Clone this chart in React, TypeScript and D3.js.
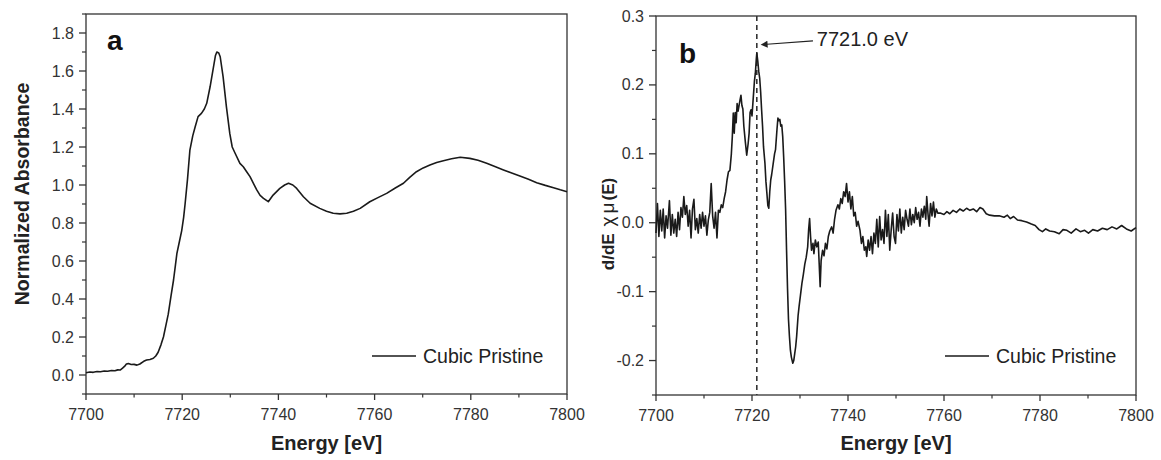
import React from "react";
import * as d3 from "d3";

// ---------- data ----------
const xMajorTicks = [7700, 7720, 7740, 7760, 7780, 7800];
const xMinorTicks = [7710, 7730, 7750, 7770, 7790];
const yMajorTicksA = [0.0, 0.2, 0.4, 0.6, 0.8, 1.0, 1.2, 1.4, 1.6, 1.8];
const yMinorTicksA = [-0.1, 0.1, 0.3, 0.5, 0.7, 0.9, 1.1, 1.3, 1.5, 1.7, 1.9];
const yMajorTicksB = [-0.2, -0.1, 0.0, 0.1, 0.2, 0.3];
const yMinorTicksB = [-0.25, -0.15, -0.05, 0.05, 0.15, 0.25];

// Panel a: normalized absorbance [energy eV, value]
const xanes: [number, number][] = [
  [7700.0, 0.012], [7700.8, 0.016], [7701.5, 0.014], [7702.3, 0.018], [7703.0, 0.017], [7703.8, 0.021],
  [7704.5, 0.02], [7705.3, 0.024], [7706.0, 0.022], [7706.6, 0.027],
  [7707.1, 0.026], [7707.6, 0.036], [7708.0, 0.045], [7708.4, 0.058], [7708.8, 0.06], [7709.4, 0.055], [7710.0, 0.056], [7710.6, 0.052], [7711.2, 0.058],
  [7712.0, 0.072], [7712.6, 0.079], [7713.3, 0.082], [7714.0, 0.088], [7714.5, 0.1],
  [7715.0, 0.12], [7715.6, 0.16], [7716.1, 0.2], [7716.6, 0.26], [7717.1, 0.32],
  [7717.7, 0.42], [7718.2, 0.5], [7718.6, 0.58], [7718.9, 0.64], [7719.4, 0.7], [7719.9, 0.76],
  [7720.3, 0.83], [7720.6, 0.9], [7721.1, 1.03], [7721.6, 1.184], [7722.2, 1.26],
  [7722.7, 1.307], [7723.3, 1.36], [7724.0, 1.377], [7724.6, 1.4], [7725.1, 1.43],
  [7725.8, 1.517], [7726.5, 1.62], [7726.9, 1.68], [7727.2, 1.7], [7727.6, 1.695],
  [7727.9, 1.675], [7728.5, 1.57], [7729.2, 1.41], [7729.9, 1.27], [7730.4, 1.2],
  [7731.0, 1.167], [7732.0, 1.114], [7732.7, 1.096], [7733.4, 1.07], [7734.1, 1.044],
  [7735.5, 0.974], [7736.2, 0.945], [7736.9, 0.93], [7737.9, 0.912], [7738.9, 0.947],
  [7740.3, 0.982], [7741.3, 1.0], [7742.1, 1.009], [7743.0, 1.0], [7743.8, 0.982],
  [7745.2, 0.938], [7746.6, 0.904], [7748.6, 0.877], [7750.0, 0.862], [7751.4, 0.851],
  [7752.8, 0.848], [7754.2, 0.851], [7755.6, 0.862], [7757.0, 0.877], [7759.0, 0.912],
  [7760.8, 0.935], [7762.5, 0.956], [7764.3, 0.984], [7766.0, 1.009], [7767.3, 1.04],
  [7768.7, 1.07], [7770.1, 1.09], [7771.5, 1.105], [7772.9, 1.118], [7774.3, 1.128],
  [7776.0, 1.138], [7777.8, 1.146], [7779.8, 1.14], [7781.5, 1.13], [7783.3, 1.114],
  [7785.0, 1.097], [7786.8, 1.079], [7788.5, 1.063], [7790.2, 1.047], [7792.0, 1.03],
  [7793.7, 1.012], [7795.5, 0.998], [7797.2, 0.986], [7798.6, 0.975], [7800.0, 0.965],
];

// Panel b: derivative d/dE chi-mu(E) [energy eV, value]
const deriv: [number, number][] = [
  [7700.0, -0.015], [7700.3, 0.028], [7700.6, -0.02], [7700.9, 0.018], [7701.2, -0.012],
  [7701.5, 0.02], [7701.8, -0.022], [7702.1, 0.01], [7702.4, -0.008], [7702.8, 0.032],
  [7703.1, -0.018], [7703.4, 0.012], [7703.7, -0.015], [7704.0, 0.005], [7704.3, -0.02],
  [7704.6, 0.015], [7704.9, -0.01], [7705.2, 0.022], [7705.5, 0.008], [7705.8, 0.038],
  [7706.1, 0.012], [7706.4, 0.025], [7706.7, -0.005], [7707.0, 0.018], [7707.3, -0.022],
  [7707.6, 0.02], [7707.9, 0.034], [7708.2, -0.01], [7708.5, 0.006], [7708.8, -0.015],
  [7709.1, 0.012], [7709.4, -0.008], [7709.7, 0.015], [7710.0, -0.005], [7710.3, 0.01],
  [7710.6, -0.018], [7710.9, 0.004], [7711.2, 0.015], [7711.5, 0.057], [7711.8, 0.01],
  [7712.1, -0.008], [7712.4, 0.015], [7712.7, -0.022], [7713.0, 0.018], [7713.3, 0.015],
  [7713.6, 0.026], [7713.9, 0.022], [7714.2, 0.035], [7714.5, 0.045], [7714.8, 0.062],
  [7715.1, 0.074], [7715.4, 0.076], [7715.7, 0.1], [7715.9, 0.125], [7716.1, 0.159],
  [7716.3, 0.13], [7716.5, 0.16], [7716.7, 0.145], [7716.9, 0.173], [7717.1, 0.162],
  [7717.3, 0.17], [7717.5, 0.178], [7717.7, 0.185], [7717.9, 0.17], [7718.1, 0.165],
  [7718.3, 0.14], [7718.6, 0.118], [7718.9, 0.098], [7719.2, 0.115], [7719.4, 0.13],
  [7719.6, 0.16], [7719.8, 0.164], [7720.0, 0.155], [7720.2, 0.175], [7720.5, 0.205],
  [7720.7, 0.217], [7720.9, 0.238], [7721.0, 0.246], [7721.2, 0.235], [7721.4, 0.22],
  [7721.6, 0.21], [7721.8, 0.19], [7722.0, 0.164], [7722.2, 0.14], [7722.4, 0.11],
  [7722.7, 0.086], [7722.9, 0.06], [7723.1, 0.043], [7723.3, 0.025], [7723.5, 0.021],
  [7723.7, 0.045], [7723.9, 0.062], [7724.1, 0.07], [7724.4, 0.085], [7724.7, 0.1],
  [7724.9, 0.106], [7725.2, 0.135], [7725.4, 0.152], [7725.6, 0.148], [7725.8, 0.15],
  [7726.0, 0.14], [7726.2, 0.142], [7726.4, 0.125], [7726.6, 0.095], [7726.8, 0.06],
  [7727.0, 0.02], [7727.2, -0.04], [7727.4, -0.095], [7727.6, -0.14], [7727.8, -0.165],
  [7728.0, -0.185], [7728.2, -0.195], [7728.5, -0.204], [7728.7, -0.2], [7728.9, -0.19],
  [7729.1, -0.18], [7729.3, -0.165], [7729.6, -0.135], [7729.8, -0.122], [7730.1, -0.105],
  [7730.4, -0.088], [7730.7, -0.075], [7731.0, -0.06], [7731.3, -0.05], [7731.6, -0.035],
  [7731.8, -0.01], [7732.0, 0.006], [7732.2, -0.02], [7732.4, -0.04], [7732.7, -0.03],
  [7732.9, -0.045], [7733.2, -0.025], [7733.5, -0.035], [7733.8, -0.028], [7734.0, -0.06],
  [7734.2, -0.093], [7734.4, -0.055], [7734.7, -0.04], [7735.0, -0.048], [7735.3, -0.03],
  [7735.6, -0.038], [7735.9, -0.02], [7736.2, -0.012], [7736.6, -0.006], [7736.9, -0.015],
  [7737.2, 0.005], [7737.5, 0.018], [7737.9, 0.026], [7738.2, 0.02], [7738.5, 0.035],
  [7738.8, 0.028], [7739.1, 0.045], [7739.4, 0.038], [7739.7, 0.057], [7740.0, 0.03],
  [7740.3, 0.045], [7740.6, 0.02], [7740.9, 0.038], [7741.2, 0.01], [7741.5, 0.015],
  [7741.8, -0.005], [7742.1, 0.002], [7742.5, -0.011], [7742.8, -0.03], [7743.1, -0.02],
  [7743.4, -0.04], [7743.7, -0.035], [7743.9, -0.049], [7744.2, -0.025], [7744.5, -0.04],
  [7744.8, -0.02], [7745.1, -0.045], [7745.4, -0.015], [7745.7, -0.03], [7746.0, 0.005],
  [7746.3, -0.035], [7746.6, 0.009], [7746.9, -0.025], [7747.2, -0.01], [7747.5, -0.03],
  [7747.8, 0.018], [7748.1, -0.02], [7748.4, 0.012], [7748.7, -0.04], [7749.0, -0.01],
  [7749.3, 0.014], [7749.6, -0.02], [7749.9, -0.03], [7750.2, 0.012], [7750.5, -0.012],
  [7750.8, 0.02], [7751.1, -0.015], [7751.4, 0.008], [7751.7, -0.01], [7752.0, 0.018],
  [7752.3, 0.005], [7752.6, -0.005], [7752.9, 0.02], [7753.2, -0.003], [7753.5, 0.012],
  [7753.8, 0.0], [7754.1, 0.022], [7754.4, 0.005], [7754.7, 0.015], [7755.0, -0.005],
  [7755.3, 0.02], [7755.6, 0.008], [7755.9, 0.024], [7756.2, 0.005], [7756.4, 0.038],
  [7756.7, 0.01], [7756.9, -0.005], [7757.2, 0.028], [7757.5, 0.01], [7757.8, 0.03],
  [7758.1, 0.008], [7758.4, 0.02], [7758.7, 0.014], [7759.2, 0.014], [7760.0, 0.012],
  [7760.6, 0.016], [7761.2, 0.013], [7761.9, 0.018], [7762.6, 0.015], [7763.3, 0.02],
  [7764.0, 0.017], [7764.7, 0.021], [7765.4, 0.018], [7766.1, 0.02], [7766.8, 0.016],
  [7767.5, 0.022], [7768.1, 0.02], [7768.8, 0.013], [7769.5, 0.011], [7770.5, 0.01],
  [7771.5, 0.01], [7772.5, 0.008], [7773.2, 0.011], [7773.8, 0.006], [7774.5, 0.009],
  [7775.3, 0.004], [7776.2, 0.003], [7777.2, 0.001], [7778.2, -0.002], [7779.0, -0.004],
  [7779.8, -0.01], [7780.5, -0.013], [7781.2, -0.009], [7782.0, -0.012], [7783.0, -0.013],
  [7784.0, -0.016], [7784.8, -0.01], [7785.6, -0.011], [7786.5, -0.015], [7787.5, -0.009],
  [7788.4, -0.013], [7789.3, -0.011], [7790.1, -0.015], [7791.0, -0.01], [7792.0, -0.012],
  [7793.0, -0.008], [7794.0, -0.01], [7795.0, -0.006], [7796.0, -0.009], [7797.0, -0.004],
  [7798.0, -0.009], [7799.0, -0.012], [7800.0, -0.007],
];

const peakEnergy = 7721.0;
const peakLabel = "7721.0 eV";
const legendLabel = "Cubic Pristine";

// ---------- layout ----------
const W = 1161;
const H = 460;
const FONT = "'Liberation Sans', Arial, Helvetica, sans-serif";
const AXIS = "#333";
const LINE = "#1a1a1a";

type PanelProps = {
  x0: number; x1: number; y0: number; y1: number;
  yDomain: [number, number];
  yMajor: number[]; yMinor: number[]; yFmt: (v: number) => string;
  data: [number, number][];
  letter: string; letterX: number; letterY: number;
  legendY: number; legendX: number;
  children?: (x: d3.ScaleLinear<number, number>, y: d3.ScaleLinear<number, number>) => React.ReactNode;
};

function Panel(p: PanelProps) {
  const x = d3.scaleLinear().domain([7700, 7800]).range([p.x0, p.x1]);
  const y = d3.scaleLinear().domain(p.yDomain).range([p.y1, p.y0]);
  const line = d3.line<[number, number]>().x((d) => x(d[0])).y((d) => y(d[1]));
  return (
    <g>
      <rect x={p.x0} y={p.y0} width={p.x1 - p.x0} height={p.y1 - p.y0} fill="none" stroke={AXIS} strokeWidth={1.3} />
      {xMajorTicks.map((t) => (
        <g key={"xM" + t}>
          <line x1={x(t)} x2={x(t)} y1={p.y1} y2={p.y1 + 6} stroke={AXIS} strokeWidth={1.3} />
          <text x={x(t)} y={p.y1 + 26} textAnchor="middle" fontFamily={FONT} fontSize={16} fill="#333">{t}</text>
        </g>
      ))}
      {xMinorTicks.map((t) => (
        <line key={"xm" + t} x1={x(t)} x2={x(t)} y1={p.y1} y2={p.y1 + 3.5} stroke={AXIS} strokeWidth={1.2} />
      ))}
      {p.yMajor.map((t) => (
        <g key={"yM" + t}>
          <line x1={p.x0 - 7} x2={p.x0} y1={y(t)} y2={y(t)} stroke={AXIS} strokeWidth={1.3} />
          <text x={p.x0 - 12} y={y(t) + 5.5} textAnchor="end" fontFamily={FONT} fontSize={16} fill="#333">{p.yFmt(t)}</text>
        </g>
      ))}
      {p.yMinor.map((t) => (
        <line key={"ym" + t} x1={p.x0 - 4} x2={p.x0} y1={y(t)} y2={y(t)} stroke={AXIS} strokeWidth={1.2} />
      ))}
      <text x={(p.x0 + p.x1) / 2} y={450} textAnchor="middle" fontFamily={FONT} fontWeight="bold" fontSize={20} fill="#222">Energy [eV]</text>
      <text x={p.letterX} y={p.letterY} fontFamily={FONT} fontWeight="bold" fontSize={28} fill="#111">{p.letter}</text>
      {p.children && p.children(x, y)}
      <path d={line(p.data) || ""} fill="none" stroke={LINE} strokeWidth={1.6} strokeLinejoin="round" />
      <line x1={p.legendX} x2={p.legendX + 44} y1={p.legendY} y2={p.legendY} stroke={LINE} strokeWidth={1.5} />
      <text x={p.legendX + 51} y={p.legendY + 7} fontFamily={FONT} fontSize={19.5} fill="#222">{legendLabel}</text>
    </g>
  );
}

export default function App() {
  return (
    <svg width={W} height={H} viewBox={`0 0 ${W} ${H}`} style={{ position: "absolute", left: 0, top: 0, background: "#fff" }}>
      <defs>
        <marker id="arrowhead" viewBox="0 0 10 10" refX="1" refY="5" markerWidth="12" markerHeight="7" orient="auto-start-reverse" markerUnits="userSpaceOnUse">
          <path d="M0,0 L10,5 L0,10 z" fill="#222" />
        </marker>
      </defs>
      <rect x={0} y={0} width={W} height={H} fill="#fff" />
      <Panel
        x0={86} x1={567} y0={14} y1={394}
        yDomain={[-0.1, 1.9]}
        yMajor={yMajorTicksA} yMinor={yMinorTicksA} yFmt={(v) => d3.format(".1f")(v)}
        data={xanes}
        letter="a" letterX={107} letterY={50}
        legendX={372} legendY={356}
      />
      <text transform="translate(29,194) rotate(-90)" textAnchor="middle" fontFamily={FONT} fontWeight="bold" fontSize={19.5} fill="#222">Normalized Absorbance</text>

      <Panel
        x0={656} x1={1136} y0={16} y1={395}
        yDomain={[-0.25, 0.3]}
        yMajor={yMajorTicksB} yMinor={yMinorTicksB} yFmt={(v) => d3.format(".1f")(v).replace("−", "-")}
        data={deriv}
        letter="b" letterX={679} letterY={63}
        legendX={945} legendY={356}
      >
        {(x, y) => (
          <g>
            <line x1={x(peakEnergy)} x2={x(peakEnergy)} y1={y(0.3)} y2={y(-0.25)} stroke="#333" strokeWidth={1.6} strokeDasharray="5,4" />
            <line x1={x(7732.7)} y1={y(0.264)} x2={x(7723.1)} y2={y(0.259)} stroke="#222" strokeWidth={1.2} markerEnd="url(#arrowhead)" />
            <text x={x(7733.5)} y={y(0.256)} fontFamily={FONT} fontSize={20} fill="#222">{peakLabel}</text>
          </g>
        )}
      </Panel>
      <text transform="translate(614,224) rotate(-90)" textAnchor="middle" fontFamily={FONT} fontWeight="bold" fontSize={17} fill="#222">
        d/dE<tspan dx={7} fontWeight="normal" fontSize={19}>χ</tspan><tspan dx={3} fontWeight="normal" fontSize={19}>μ</tspan><tspan dx={2}>(E)</tspan>
      </text>
    </svg>
  );
}
